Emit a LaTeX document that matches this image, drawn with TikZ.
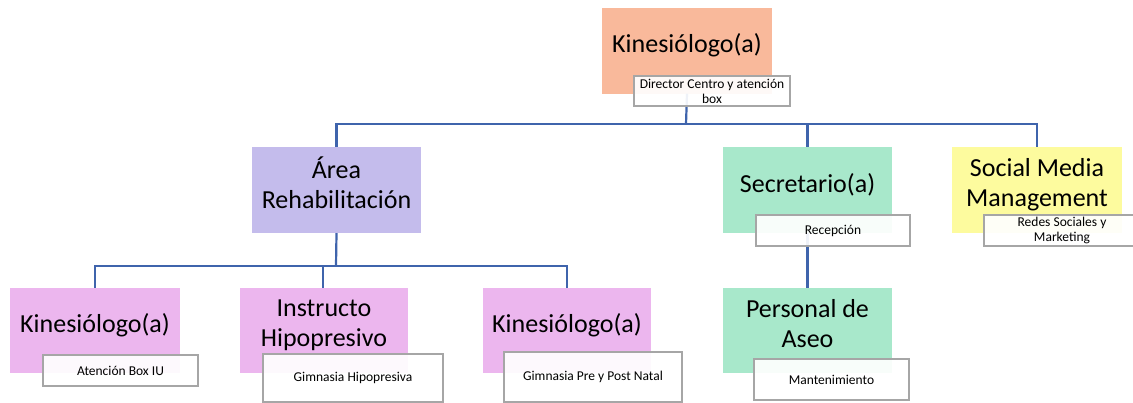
\documentclass[tikz,border=0pt]{standalone}
\usepackage{fontspec}
\setmainfont{Carlito}
\definecolor{salmon}{HTML}{F9B99B}
\definecolor{lav}{HTML}{C4BCEC}
\definecolor{mint}{HTML}{A8E8CB}
\definecolor{yel}{HTML}{FDFB9E}
\definecolor{pnk}{HTML}{ECB6EE}
\definecolor{conncol}{HTML}{3F64AC}
\definecolor{lblborder}{HTML}{A6A6A6}
\newcommand{\lowstrut}{\rule[-15pt]{0pt}{0pt}}
\tikzset{
  mainbox/.style={rectangle, draw=none, inner sep=0pt, align=center,
    font=\fontsize{26}{30}\selectfont, text=black},
  lblbox/.style={rectangle, draw=lblborder, line width=1.6pt, fill=white, fill opacity=0.92,
    text opacity=1, inner sep=0pt, align=center, font=\fontsize{13.5}{15}\selectfont},
  conn/.style={draw=conncol, line width=2.2pt}
}
\begin{document}
\begin{tikzpicture}[x=1pt,y=-1pt]
\useasboundingbox (0,0) rectangle (1133,402);
\clip (0,0) rectangle (1133,402);
\coordinate (b1) at (686,124);
\coordinate (b2) at (336,266);
% main boxes
\node[mainbox, fill=salmon, minimum width=170pt, minimum height=86pt] (top) at (687,50.5) {Kinesiólogo(a)\lowstrut};
\node[mainbox, fill=lav, minimum width=169pt, minimum height=86pt] (area) at (336.5,190) {Área\\Rehabilitación\lowstrut};
\node[mainbox, fill=mint, minimum width=169pt, minimum height=86pt] (sec) at (807.5,190) {Secretario(a)\lowstrut};
\node[mainbox, fill=yel, minimum width=170pt, minimum height=86pt] (smm) at (1037,190) {Social Media\\Management\lowstrut};
\node[mainbox, fill=pnk, minimum width=170pt, minimum height=85pt] (k1) at (95,330.5) {Kinesiólogo(a)\lowstrut};
\node[mainbox, fill=pnk, minimum width=168pt, minimum height=85pt] (ins) at (324,330.5) {Instructo\\Hipopresivo\lowstrut};
\node[mainbox, fill=pnk, minimum width=168pt, minimum height=85pt] (k3) at (567,330.5) {Kinesiólogo(a)\lowstrut};
\node[mainbox, fill=mint, minimum width=169pt, minimum height=85pt] (aseo) at (807.5,330.5) {Personal de\\Aseo\lowstrut};
% connectors
\draw[conn] (top.south) -- (b1);
\draw[conn] (b1) -| (area.north);
\draw[conn] (b1) -| (sec.north);
\draw[conn] (b1) -| (smm.north);
\draw[conn] (area.south) -- (b2);
\draw[conn] (b2) -| (k1.north);
\draw[conn] (b2) -| ([xshift=-1pt]ins.north);
\draw[conn] (b2) -| (k3.north);
\draw[conn] (sec.south) -- (aseo.north);
% label boxes
\node[lblbox, minimum width=156pt, minimum height=30pt] (ltop) at (712,91) {Director Centro y atención\\box};
\node[lblbox, minimum width=154pt, minimum height=31pt] (lsec) at (833,230.5) {Recepción};
\node[lblbox, minimum width=156pt, minimum height=31pt] (lsmm) at (1062,230.5) {Redes Sociales y\\Marketing};
\node[lblbox, minimum width=155pt, minimum height=31pt] (lk1) at (120.5,370.5) {Atención Box IU};
\node[lblbox, minimum width=180pt, minimum height=48pt] (lins) at (353,378) {Gimnasia Hipopresiva};
\node[lblbox, minimum width=178pt, minimum height=50pt] (lk3) at (593,377) {Gimnasia Pre y Post Natal};
\node[lblbox, minimum width=155pt, minimum height=41pt] (laseo) at (831.5,379.5) {Mantenimiento};
\end{tikzpicture}
\end{document}
